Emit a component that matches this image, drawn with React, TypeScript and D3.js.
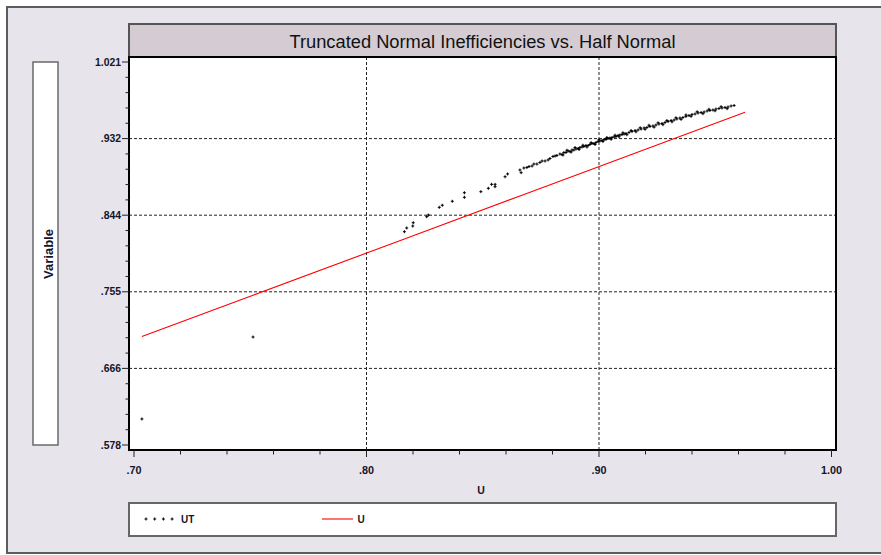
import React from "react";
import * as d3 from "d3";

const title = "Truncated Normal Inefficiencies vs. Half Normal";
const xTickLabels = [".70", ".80", ".90", "1.00"];
const xTickValues = [0.7, 0.8, 0.9, 1.0];
const yTickLabels = [".578", ".666", ".755", ".844", ".932", "1.021"];
const yDomain: [number, number] = [0.578, 1.021];
const xDomain: [number, number] = [0.7, 1.0];

// UT scatter: x = U, y = UT
const utU = [
  0.7034, 0.7512, 0.8163, 0.8173, 0.8199, 0.8201, 0.8259, 0.8266, 0.8313, 0.8326,
  0.8369, 0.8421, 0.8421, 0.8492, 0.8524, 0.8538, 0.8553, 0.8553, 0.8596, 0.8607,
  0.866, 0.8665,
  0.8677, 0.869, 0.8699, 0.8712, 0.872, 0.8733, 0.8746, 0.8755, 0.8768, 0.8781,
  0.8789, 0.8802, 0.8811, 0.8819, 0.8832, 0.8841, 0.8849, 0.8858, 0.8867, 0.8875,
  0.8884, 0.8892, 0.8901, 0.891, 0.8918, 0.8927, 0.8935, 0.8944, 0.8953, 0.8961,
  0.897, 0.8978, 0.8987, 0.8996, 0.9004, 0.9013, 0.9022, 0.903, 0.9039, 0.9047,
  0.9056, 0.9065, 0.9073, 0.9082, 0.909, 0.9099, 0.9108, 0.9116, 0.9129, 0.9142,
  0.9155, 0.9168, 0.9181, 0.9194, 0.9206, 0.9219, 0.9232, 0.9245, 0.9258, 0.9271,
  0.9284, 0.9297, 0.931, 0.9323, 0.9335, 0.9348, 0.9361, 0.9374, 0.9387, 0.94,
  0.9413, 0.9426, 0.9439, 0.9452, 0.9465, 0.9477, 0.949, 0.9503, 0.9516, 0.9529,
  0.9542, 0.9555, 0.9568, 0.9581,
  0.8845, 0.8862, 0.888, 0.8897, 0.8914, 0.8931, 0.8948, 0.8966, 0.8983, 0.9,
  0.9017, 0.9034, 0.9052, 0.9069, 0.9086, 0.9103, 0.912, 0.9138, 0.9159, 0.9177,
  0.9198, 0.9215, 0.9237, 0.9254, 0.9275, 0.9292, 0.9314, 0.9331, 0.9353, 0.9374,
  0.9396, 0.9422, 0.9447, 0.9473, 0.9499, 0.9525, 0.9551,
];
const utValues = [
  0.6081, 0.7029, 0.8247, 0.829, 0.8313, 0.8351, 0.8421, 0.844, 0.8529, 0.8553,
  0.8599, 0.8698, 0.8645, 0.871, 0.8749, 0.8795, 0.8795, 0.8768, 0.8883, 0.8915,
  0.8961, 0.893,
  0.8984, 0.899, 0.9001, 0.9007, 0.903, 0.903, 0.9048, 0.9065, 0.9065, 0.9077,
  0.9094, 0.9117, 0.9123, 0.9129, 0.9146, 0.914, 0.9163, 0.9163, 0.9181, 0.9175,
  0.9192, 0.9192, 0.9204, 0.921, 0.9221, 0.9227, 0.9233, 0.9244, 0.9244, 0.9256,
  0.9267, 0.9267, 0.9279, 0.9291, 0.9296, 0.9302, 0.9314, 0.9314, 0.9325, 0.9331,
  0.9337, 0.9343, 0.9348, 0.936, 0.9366, 0.9371, 0.9377, 0.9383, 0.9395, 0.9406,
  0.9418, 0.9424, 0.9435, 0.9447, 0.9452, 0.9464, 0.947, 0.9481, 0.9493, 0.9499,
  0.951, 0.9522, 0.9533, 0.9539, 0.9551, 0.9562, 0.9568, 0.958, 0.9591, 0.9603,
  0.9609, 0.962, 0.9626, 0.9632, 0.9643, 0.9649, 0.9655, 0.9666, 0.9672, 0.9678,
  0.9684, 0.969, 0.9701, 0.9707,
  0.9134, 0.9189, 0.9169, 0.9221, 0.9198, 0.9247, 0.9227, 0.9277, 0.9256, 0.931,
  0.9291, 0.9337, 0.9316, 0.9363, 0.9345, 0.9391, 0.9369, 0.9418, 0.9403, 0.9449,
  0.9432, 0.9478, 0.9457, 0.9506, 0.9485, 0.9533, 0.9518, 0.9565, 0.9547, 0.9597,
  0.9582, 0.9634, 0.9612, 0.9663, 0.9646, 0.9693, 0.967,
];

// U line: U against itself
const uLine = [0.7034, 0.7512, 0.8163, 0.866, 0.9004, 0.931, 0.9628];

const FONT = "'Liberation Sans', Arial, sans-serif";
const TXT = "#14142a";

export default function App() {
  const plotL = 129, plotR = 836, plotT = 57, plotB = 450;
  const x = d3.scaleLinear().domain(xDomain).range([134, 831.5]);
  const y = d3.scaleLinear().domain(yDomain).range([445, 62]);

  const yStep = (yDomain[1] - yDomain[0]) / (yTickLabels.length - 1);
  const yMajor = yTickLabels.map((_, i) => yDomain[0] + i * yStep);
  const yMinor: number[] = [];
  for (let i = 0; i < yMajor.length - 1; i++)
    for (let k = 1; k < 5; k++) yMinor.push(yMajor[i] + (k * yStep) / 5);
  const xMinor: number[] = [];
  for (let i = 0; i < xTickValues.length - 1; i++)
    for (let k = 1; k < 5; k++) xMinor.push(xTickValues[i] + (k * 0.1) / 5);

  const line = d3
    .line<number>()
    .x((d) => x(d))
    .y((d) => y(d));

  const cross = "M-1.5,0H1.5M0,-1.5V1.5";

  return (
    <svg
      width={881}
      height={555}
      style={{ position: "fixed", left: 0, top: 0, background: "#fff" }}
      fontFamily={FONT}
    >
      <rect x={7} y={7} width={900} height={546} fill="#e7e4ec" stroke="#5c5c5c" strokeWidth={2} />

      {/* Y label box */}
      <rect x={33} y={62} width={25} height={383} fill="#fff" stroke="#6a6a6a" strokeWidth={1.5} />
      <text
        transform={`translate(52.5,254) rotate(-90)`}
        textAnchor="middle"
        fontSize={13}
        fontWeight="bold"
        fill={TXT}
      >
        Variable
      </text>

      {/* Title box */}
      <rect x={plotL} y={24} width={plotR - plotL} height={33} fill="#d5ccd3" stroke="#555" strokeWidth={2} />
      <text x={(plotL + plotR) / 2} y={47.5} textAnchor="middle" fontSize={18.3} fill="#111">
        {title}
      </text>

      {/* Plot area */}
      <rect x={plotL} y={plotT} width={plotR - plotL} height={plotB - plotT} fill="#fff" />

      {/* grid */}
      {yMajor.slice(1, -1).map((v, i) => (
        <line key={"gy" + i} x1={plotL} x2={plotR} y1={y(v)} y2={y(v)} stroke="#222" strokeWidth={1} strokeDasharray="3,2" />
      ))}
      {xTickValues.slice(1, -1).map((v, i) => (
        <line key={"gx" + i} x1={x(v)} x2={x(v)} y1={plotT} y2={plotB} stroke="#222" strokeWidth={1} strokeDasharray="3,2" />
      ))}

      {/* U line */}
      <path d={line(uLine) || ""} fill="none" stroke="#ff0000" strokeWidth={1.1} />

      {/* UT points */}
      {utU.map((u, i) => (
        <path key={"p" + i} d={cross} transform={`translate(${x(u)},${y(utValues[i])})`} stroke="#000" strokeWidth={1} />
      ))}

      <rect x={plotL} y={plotT} width={plotR - plotL} height={plotB - plotT} fill="none" stroke="#000" strokeWidth={2} />

      {/* Y axis ticks */}
      {yMajor.map((v, i) => (
        <g key={"yt" + i}>
          <line x1={122} x2={plotL} y1={y(v)} y2={y(v)} stroke="#222" strokeWidth={1} />
          <text x={121} y={y(v) + 3.6} textAnchor="end" fontSize={10.4} fontWeight="bold" fill={TXT}>
            {yTickLabels[i]}
          </text>
        </g>
      ))}
      {yMinor.map((v, i) => (
        <line key={"ym" + i} x1={125.5} x2={plotL} y1={y(v)} y2={y(v)} stroke="#222" strokeWidth={1} />
      ))}

      {/* X axis ticks */}
      {xTickValues.map((v, i) => (
        <g key={"xt" + i}>
          <line x1={x(v)} x2={x(v)} y1={plotB} y2={457} stroke="#222" strokeWidth={1} />
          <text x={x(v)} y={474} textAnchor="middle" fontSize={10.8} fontWeight="bold" fill={TXT}>
            {xTickLabels[i]}
          </text>
        </g>
      ))}
      {xMinor.map((v, i) => (
        <line key={"xm" + i} x1={x(v)} x2={x(v)} y1={plotB} y2={454.5} stroke="#222" strokeWidth={1} />
      ))}
      <text x={481} y={494} textAnchor="middle" fontSize={10.5} fontWeight="bold" fill={TXT}>
        U
      </text>

      {/* Legend */}
      <rect x={plotL} y={503} width={plotR - plotL} height={33} fill="#fff" stroke="#666" strokeWidth={2} />
      {[0, 1, 2, 3].map((k) => (
        <path key={"lg" + k} d={cross} transform={`translate(${146 + k * 8.7},519)`} stroke="#000" strokeWidth={1} />
      ))}
      <text x={181} y={522.5} fontSize={10} fontWeight="bold" fill={TXT}>
        UT
      </text>
      <line x1={322} x2={353} y1={519} y2={519} stroke="#ff0000" strokeWidth={1.1} />
      <text x={357.5} y={522.5} fontSize={10} fontWeight="bold" fill={TXT}>
        U
      </text>
    </svg>
  );
}
